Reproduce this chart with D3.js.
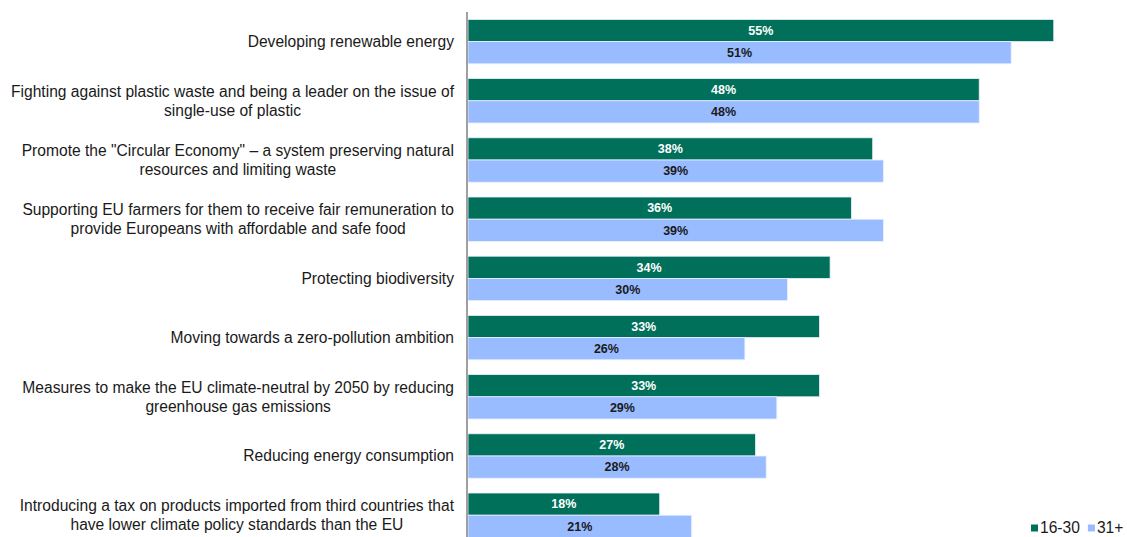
<!DOCTYPE html>
<html>
<head>
<meta charset="utf-8">
<script src="https://cdn.jsdelivr.net/npm/d3@7"></script>
<style>
  html, body { margin: 0; padding: 0; background: #fff; }
  svg { display: block; font-family: "Liberation Sans", Arial, sans-serif; }
</style>
</head>
<body>
<svg id="chart" width="1127" height="537"></svg>
<script>
// Category labels (line breaks mark where each label wraps)
const categories = [
  "Developing renewable energy",
  "Fighting against plastic waste and being a leader on the issue of\nsingle-use of plastic",
  "Promote the \"Circular Economy\" \u2013 a system preserving natural\nresources and limiting waste",
  "Supporting EU farmers for them to receive fair remuneration to\nprovide Europeans with affordable and safe food",
  "Protecting biodiversity",
  "Moving towards a zero-pollution ambition",
  "Measures to make the EU climate-neutral by 2050 by reducing\ngreenhouse gas emissions",
  "Reducing energy consumption",
  "Introducing a tax on products imported from third countries that\nhave lower climate policy standards than the EU"
];
const seriesNames = ["16-30", "31+"];
const young = [55, 48, 38, 36, 34, 33, 33, 27, 18];
const older = [51, 48, 39, 39, 30, 26, 29, 28, 21];
const colors = ["#00705a", "#99bbff"];
const labelColors = ["#ffffff", "#1a1a1a"];

const svg = d3.select("#chart");
const axisX = 467;
const plotTop = 12;
const bandStep = 59.2;

const x = d3.scaleLinear().domain([0, 100]).range([axisX + 1, axisX + 1 + 1065]);
const y = d3.scaleBand()
  .domain(d3.range(categories.length))
  .range([plotTop, plotTop + bandStep * categories.length])
  .paddingInner(0.25).paddingOuter(0.125);
const sub = d3.scaleBand().domain([0, 1]).range([0, y.bandwidth()]);

const rows = categories.map((c, i) => ({ i, label: c, vals: [young[i], older[i]] }));

// bars
const g = svg.append("g");
rows.forEach(r => {
  r.vals.forEach((v, s) => {
    g.append("rect")
      .attr("x", x(0))
      .attr("y", y(r.i) + sub(s))
      .attr("width", x(v) - x(0))
      .attr("height", sub.bandwidth())
      .attr("fill", colors[s])
      .attr("stroke", "#e8f0ff")
      .attr("stroke-width", 0.8);
    g.append("text")
      .attr("x", (x(0) + x(v)) / 2)
      .attr("y", y(r.i) + sub(s) + sub.bandwidth() / 2)
      .attr("dy", "0.35em")
      .attr("text-anchor", "middle")
      .attr("font-size", 12.5)
      .attr("font-weight", "bold")
      .attr("fill", labelColors[s])
      .text(v + "%");
  });
});

// vertical axis line
svg.append("line")
  .attr("x1", axisX).attr("x2", axisX)
  .attr("y1", plotTop).attr("y2", 537)
  .attr("stroke", "#808080").attr("stroke-width", 1.5);

// category labels: block right-aligned, lines centred within the block
const labelRight = 454;
const lineH = 19;
rows.forEach(r => {
  const lines = r.label.split("\n");
  const t = svg.append("text")
    .attr("font-size", 15.6)
    .attr("fill", "#1a1a1a")
    .attr("text-anchor", "middle");
  const tspans = lines.map(l => t.append("tspan").text(l));
  const maxW = d3.max(tspans, ts => ts.node().getComputedTextLength());
  const cx = labelRight - maxW / 2;
  const cy = y(r.i) + y.bandwidth() / 2;
  tspans.forEach((ts, k) => {
    ts.attr("x", cx)
      .attr("y", cy + (k - (lines.length - 1) / 2) * lineH)
      .attr("dy", "0.35em");
  });
});

// legend
const legend = svg.append("g").attr("transform", "translate(1031,528)");
let lx = 0;
seriesNames.forEach((n, s) => {
  legend.append("rect").attr("x", lx).attr("y", -3.5).attr("width", 7).attr("height", 7).attr("fill", colors[s]);
  const t = legend.append("text").attr("x", lx + 9).attr("y", 0).attr("dy", "0.35em")
    .attr("font-size", 15.6).attr("fill", "#1a1a1a").text(n);
  lx += 9 + t.node().getComputedTextLength() + 8;
});
</script>
</body>
</html>
